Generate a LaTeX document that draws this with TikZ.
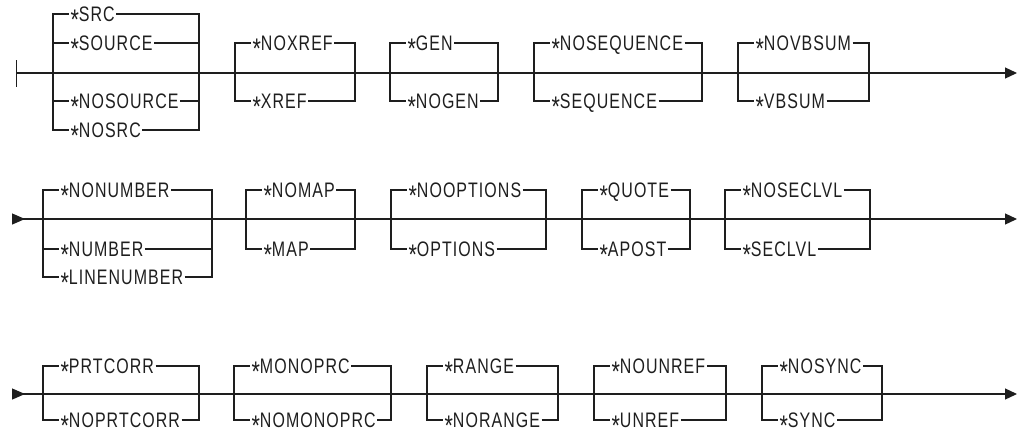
\documentclass[tikz,border=0pt]{standalone}
\usepackage{fontspec}
\usetikzlibrary{arrows.meta}
\newfontfamily\railfont[FakeStretch=0.76,LetterSpace=5]{Liberation Sans}
\definecolor{ink}{HTML}{1E1E1E}
\newcommand{\rast}{\raisebox{-8.5pt}{\scalebox{1.35}{*}}}

\begin{document}
\begin{tikzpicture}[x=1pt,y=-1pt,line width=1.2pt,color=ink]
			\tikzstyle{opt}=[anchor=west,inner sep=1pt,text height=14.4pt,text depth=0pt,font=\railfont\fontsize{21}{25}\selectfont]
			\useasboundingbox (0,0) rectangle (1019,432);
			
			% first line
			\coordinate (start1) at (16,73);
			\coordinate (end1) at (1017,73);
			\coordinate (srcl) at (53,73);
			\coordinate (srcr) at (199,73);
			\coordinate (xrefl) at (235,73);
			\coordinate (xrefr) at (355,73);
			\coordinate (genl) at (390,73);
			\coordinate (genr) at (498,73);
			\coordinate (seql) at (534,73);
			\coordinate (seqr) at (702,73);
			\coordinate (vbsl) at (738,73);
			\coordinate (vbsr) at (869,73);
			
			\node[opt] (src) at (69,14) {\rast SRC};
			\node[opt] (source) at (69,43) {\rast SOURCE};
			\node[opt] (nosource) at (69,101) {\rast NOSOURCE};
			\node[opt] (nosrc) at (69,130) {\rast NOSRC};
			\node[opt] (noxref) at (251,43) {\rast NOXREF};
			\node[opt] (xref) at (251,101) {\rast XREF};
			\node[opt] (gen) at (406,43) {\rast GEN};
			\node[opt] (nogen) at (406,101) {\rast NOGEN};
			\node[opt] (noseq) at (550,43) {\rast NOSEQUENCE};
			\node[opt] (seq) at (550,101) {\rast SEQUENCE};
			\node[opt] (novbsum) at (754,43) {\rast NOVBSUM};
			\node[opt] (vbsum) at (754,101) {\rast VBSUM};
			
			\draw[{Bar[width=27pt]}-{Triangle[length=12pt,width=11pt]}] (start1) -- (end1);
			\draw (srcl) |- (src) -| (srcr);
			\draw (srcl) |- (source) -| (srcr);
			\draw (srcl) |- (nosource) -| (srcr);
			\draw (srcl) |- (nosrc) -| (srcr);
			\draw (xrefl) |- (noxref) -| (xrefr);
			\draw (xrefl) |- (xref) -| (xrefr);
			\draw (genl) |- (gen) -| (genr);
			\draw (genl) |- (nogen) -| (genr);
			\draw (seql) |- (noseq) -| (seqr);
			\draw (seql) |- (seq) -| (seqr);
			\draw (vbsl) |- (novbsum) -| (vbsr);
			\draw (vbsl) |- (vbsum) -| (vbsr);
			
			% second line
			\coordinate (start2) at (12,219);
			\coordinate (end2) at (1017,219);
			\coordinate (numl) at (43,219);
			\coordinate (numr) at (212,219);
			\coordinate (mapl) at (246,219);
			\coordinate (mapr) at (355,219);
			\coordinate (optl) at (391,219);
			\coordinate (optr) at (546,219);
			\coordinate (quotel) at (582,219);
			\coordinate (quoter) at (690,219);
			\coordinate (secl) at (725,219);
			\coordinate (secr) at (870,219);
			
			\node[opt] (nonumber) at (59,190) {\rast NONUMBER};
			\node[opt] (number) at (59,249) {\rast NUMBER};
			\node[opt] (linenumber) at (59,277) {\rast LINENUMBER};
			\node[opt] (nomap) at (262,190) {\rast NOMAP};
			\node[opt] (map) at (262,249) {\rast MAP};
			\node[opt] (nooptions) at (407,190) {\rast NOOPTIONS};
			\node[opt] (options) at (407,249) {\rast OPTIONS};
			\node[opt] (quote) at (598,190) {\rast QUOTE};
			\node[opt] (apost) at (598,249) {\rast APOST};
			\node[opt] (noseclvl) at (741,190) {\rast NOSECLVL};
			\node[opt] (seclvl) at (741,249) {\rast SECLVL};
			
			\draw[{Triangle[length=13pt,width=11pt,reversed]}-{Triangle[length=12pt,width=11pt]}] (start2) -- (end2);
			\draw (numl) |- (nonumber) -| (numr);
			\draw (numl) |- (number) -| (numr);
			\draw (numl) |- (linenumber) -| (numr);
			\draw (mapl) |- (nomap) -| (mapr);
			\draw (mapl) |- (map) -| (mapr);
			\draw (optl) |- (nooptions) -| (optr);
			\draw (optl) |- (options) -| (optr);
			\draw (quotel) |- (quote) -| (quoter);
			\draw (quotel) |- (apost) -| (quoter);
			\draw (secl) |- (noseclvl) -| (secr);
			\draw (secl) |- (seclvl) -| (secr);
			
			% third line
			\coordinate (start3) at (12,394);
			\coordinate (end3) at (1017,394);
			\coordinate (prtl) at (43,394);
			\coordinate (prtr) at (199,394);
			\coordinate (monol) at (234,394);
			\coordinate (monor) at (391,394);
			\coordinate (rangel) at (427,394);
			\coordinate (ranger) at (558,394);
			\coordinate (unrefl) at (594,394);
			\coordinate (unrefr) at (726,394);
			\coordinate (syncl) at (762,394);
			\coordinate (syncr) at (882,394);
			
			\node[opt] (prtcorr) at (59,366) {\rast PRTCORR};
			\node[opt] (noprtcorr) at (59,420) {\rast NOPRTCORR};
			\node[opt] (monoprc) at (250,366) {\rast MONOPRC};
			\node[opt] (nomonoprc) at (250,420) {\rast NOMONOPRC};
			\node[opt] (range) at (443,366) {\rast RANGE};
			\node[opt] (norange) at (443,420) {\rast NORANGE};
			\node[opt] (nounref) at (610,366) {\rast NOUNREF};
			\node[opt] (unref) at (610,420) {\rast UNREF};
			\node[opt] (nosync) at (778,366) {\rast NOSYNC};
			\node[opt] (sync) at (778,420) {\rast SYNC};
			
			\draw[{Triangle[length=13pt,width=11pt,reversed]}-{Triangle[length=12pt,width=11pt]}] (start3) -- (end3);
			\draw (prtl) |- (prtcorr) -| (prtr);
			\draw (prtl) |- (noprtcorr) -| (prtr);
			\draw (monol) |- (monoprc) -| (monor);
			\draw (monol) |- (nomonoprc) -| (monor);
			\draw (rangel) |- (range) -| (ranger);
			\draw (rangel) |- (norange) -| (ranger);
			\draw (unrefl) |- (nounref) -| (unrefr);
			\draw (unrefl) |- (unref) -| (unrefr);
			\draw (syncl) |- (nosync) -| (syncr);
			\draw (syncl) |- (sync) -| (syncr);
			
\end{tikzpicture}
\end{document}
